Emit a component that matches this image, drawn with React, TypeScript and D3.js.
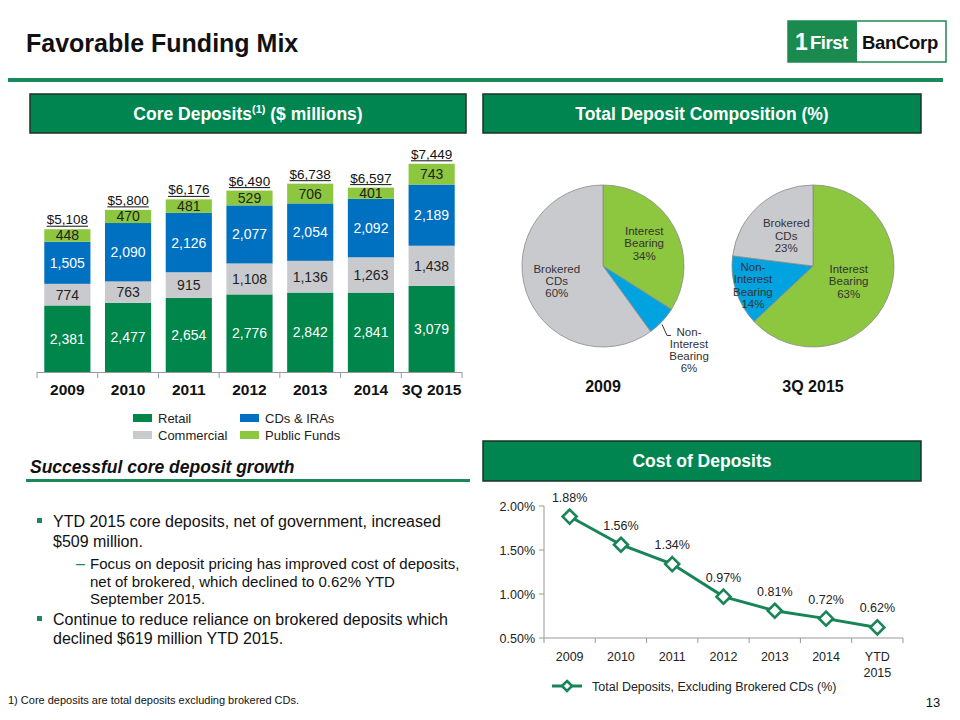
import React from "react";
import * as d3 from "d3";

const years = ["2009", "2010", "2011", "2012", "2013", "2014", "3Q 2015"];
const retail = [2381, 2477, 2654, 2776, 2842, 2841, 3079];
const commercial = [774, 763, 915, 1108, 1136, 1263, 1438];
const cdsIras = [1505, 2090, 2126, 2077, 2054, 2092, 2189];
const publicFunds = [448, 470, 481, 529, 706, 401, 743];
const totalLabels = ["$5,108", "$5,800", "$6,176", "$6,490", "$6,738", "$6,597", "$7,449"];
const seriesNames = ["Retail", "Commercial", "CDs & IRAs", "Public Funds"];

const pieCategories = ["Interest Bearing", "Non-Interest Bearing", "Brokered CDs"];
const pie2009 = [34, 6, 60];
const pie2015 = [63, 14, 23];
const pieTitles = ["2009", "3Q 2015"];

const costCategories = ["2009", "2010", "2011", "2012", "2013", "2014", "YTD 2015"];
const costValues = [1.88, 1.56, 1.34, 0.97, 0.81, 0.72, 0.62];
const costTicks = [0.5, 1.0, 1.5, 2.0];
const costLegend = "Total Deposits, Excluding Brokered CDs (%)";

const FONT = "'Liberation Sans', Arial, sans-serif";
const GREEN_HDR = "#008550";
const BAR_COLORS = ["#00854A", "#C9CACE", "#0070C0", "#8DC63F"];
const BAR_TEXT = ["#ffffff", "#222222", "#ffffff", "#222222"];
const PIE_COLORS = ["#8DC63F", "#00A3E0", "#C9CACE"];
const LINE_GREEN = "#178556";

function fmt(n: number) {
  return d3.format(",")(n);
}

function HeaderBox({ x, y, w, h, children }: any) {
  return (
    <g>
      <rect x={x} y={y} width={w} height={h} fill={GREEN_HDR} stroke="#1b3326" strokeWidth={1.5} />
      <text x={x + w / 2} y={y + h / 2 + 6} textAnchor="middle" fill="#fff" fontWeight="bold" fontSize={17.5} fontFamily={FONT}>
        {children}
      </text>
    </g>
  );
}

function BarChart() {
  const x = d3.scaleBand().domain(years).range([37, 462]).paddingInner(0.24).paddingOuter(0.12);
  const y = d3.scaleLinear().domain([0, 8000]).range([372, 372 - 8000 * 0.02795]);
  const series = [retail, commercial, cdsIras, publicFunds];
  const data = years.map((yr, i) => {
    const o: any = { year: yr };
    seriesNames.forEach((s, k) => (o[s] = series[k][i]));
    return o;
  });
  const stacked = d3.stack().keys(seriesNames)(data);
  const step = x.step();
  const bounds = d3.range(years.length + 1).map((i) => 37 + i * step);
  return (
    <g fontFamily={FONT}>
      {stacked.map((layer, k) => (
        <g key={k}>
          {layer.map((d, i) => {
            const y0 = y(d[0]);
            const y1 = y(d[1]);
            return (
              <g key={i}>
                <rect x={x(years[i])} y={y1} width={x.bandwidth()} height={y0 - y1} fill={BAR_COLORS[k]} />
                <text x={(x(years[i]) as number) + x.bandwidth() / 2} y={(y0 + y1) / 2 + 5} textAnchor="middle" fontSize={14} fill={BAR_TEXT[k]}>
                  {fmt(series[k][i])}
                </text>
              </g>
            );
          })}
        </g>
      ))}
      {years.map((yr, i) => {
        const total = retail[i] + commercial[i] + cdsIras[i] + publicFunds[i];
        const cx = (x(yr) as number) + x.bandwidth() / 2;
        const ty = y(total) - 5;
        const tw = totalLabels[i].length * 6.9;
        return (
          <g key={yr}>
            <text x={cx} y={ty} textAnchor="middle" fontSize={13.5} fill="#111">
              {totalLabels[i]}
            </text>
            <line x1={cx - tw / 2} x2={cx + tw / 2} y1={ty + 2} y2={ty + 2} stroke="#111" strokeWidth={1} />
            <text x={cx} y={395} textAnchor="middle" fontSize={15.5} fontWeight="bold" fill="#111">
              {yr}
            </text>
          </g>
        );
      })}
      <line x1={37} x2={462} y1={372.5} y2={372.5} stroke="#999" strokeWidth={1} />
      {bounds.map((b, i) => (
        <line key={i} x1={b} x2={b} y1={372} y2={378} stroke="#999" strokeWidth={1} />
      ))}
      {seriesNames.map((s, k) => {
        const col = k === 0 || k === 1 ? 0 : 1;
        const row = k === 0 || k === 2 ? 0 : 1;
        const lx = 133 + col * 107;
        const ly = 418 + row * 17;
        return (
          <g key={s}>
            <rect x={lx} y={ly - 4} width={19} height={8} fill={BAR_COLORS[k]} />
            <text x={lx + 25} y={ly + 5} fontSize={13} fill="#222">
              {s}
            </text>
          </g>
        );
      })}
    </g>
  );
}

function Pie({ cx, cy, values, title, labelR, outside }: any) {
  const r = 81;
  const pie = d3.pie<number>().sort(null).value((d) => d)(values);
  const arc = d3.arc<any>().innerRadius(0).outerRadius(r);
  return (
    <g transform={`translate(${cx},${cy})`} fontFamily={FONT}>
      {pie.map((p, i) => (
        <path key={i} d={arc(p) as string} fill={PIE_COLORS[i]} stroke="#8a8a8a" strokeWidth={0.8} />
      ))}
      {pie.map((p, i) => {
        const words = pieCategories[i].startsWith("Non-")
          ? ["Non-", "Interest", "Bearing"]
          : pieCategories[i].split(" ");
        const lines = [...words, values[i] + "%"];
        const mid = (p.startAngle + p.endAngle) / 2;
        if (outside[i]) {
          const ax = Math.sin(mid) * r;
          const ay = -Math.cos(mid) * r;
          const lx = ax + 27;
          const ly0 = ay + 11;
          return (
            <g key={i}>
              <polyline points={`${ax},${ay + 3} ${ax + 5},${ay + 14} ${ax + 9},${ay + 14}`} fill="none" stroke="#333" strokeWidth={1} />
              {lines.map((t, j) => (
                <text key={j} x={lx} y={ly0 + j * 11.7 + 4} textAnchor="middle" fontSize={11.5} fill="#333">
                  {t}
                </text>
              ))}
            </g>
          );
        }
        const lr = r * labelR[i];
        const lx = Math.sin(mid) * lr;
        const ly = -Math.cos(mid) * lr;
        const n = lines.length;
        return (
          <g key={i}>
            {lines.map((t, j) => (
              <text key={j} x={lx} y={ly + (j - (n - 1) / 2) * 12.3 + 4} textAnchor="middle" fontSize={11.5} fill="#333">
                {t}
              </text>
            ))}
          </g>
        );
      })}
      <text x={0} y={126} textAnchor="middle" fontWeight="bold" fontSize={16} fill="#111">
        {title}
      </text>
    </g>
  );
}

function Diamond({ x, y, s }: any) {
  return (
    <path d={`M${x},${y - s} L${x + s},${y} L${x},${y + s} L${x - s},${y} Z`} fill="#fff" stroke={LINE_GREEN} strokeWidth={2.6} />
  );
}

function LineChart() {
  const x = d3.scaleBand().domain(costCategories).range([544, 903]);
  const y = d3.scaleLinear().domain([0.5, 2.0]).range([638, 506]);
  const pts = costValues.map((v, i) => [(x(costCategories[i]) as number) + x.bandwidth() / 2, y(v)] as [number, number]);
  const line = d3.line();
  const bounds = d3.range(costCategories.length + 1).map((i) => 544 + i * x.step());
  return (
    <g fontFamily={FONT}>
      <line x1={544} x2={544} y1={506} y2={638} stroke="#999" />
      <line x1={544} x2={903} y1={638} y2={638} stroke="#999" />
      {costTicks.map((t) => (
        <g key={t}>
          <line x1={539} x2={544} y1={y(t)} y2={y(t)} stroke="#999" />
          <text x={535} y={y(t) + 4.5} textAnchor="end" fontSize={12.5} fill="#222">
            {d3.format(".2f")(t) + "%"}
          </text>
        </g>
      ))}
      {bounds.map((b, i) => (
        <line key={i} x1={b} x2={b} y1={638} y2={643} stroke="#999" />
      ))}
      {costCategories.map((c) => {
        const parts = c.split(" ");
        const cx = (x(c) as number) + x.bandwidth() / 2;
        return parts.map((p, j) => (
          <text key={c + j} x={cx} y={661 + j * 16} textAnchor="middle" fontSize={12.5} fill="#222">
            {p}
          </text>
        ));
      })}
      <path d={line(pts) as string} fill="none" stroke={LINE_GREEN} strokeWidth={3} />
      {pts.map((p, i) => (
        <g key={i}>
          <Diamond x={p[0]} y={p[1]} s={7} />
          <text x={p[0]} y={p[1] - 15} textAnchor="middle" fontSize={12.5} fill="#222">
            {d3.format(".2f")(costValues[i]) + "%"}
          </text>
        </g>
      ))}
      <line x1={552} x2={582} y1={686} y2={686} stroke={LINE_GREEN} strokeWidth={3} />
      <Diamond x={567} y={686} s={5} />
      <text x={592} y={690.5} fontSize={12.5} fill="#222">
        {costLegend}
      </text>
    </g>
  );
}

export default function App() {
  return (
    <svg width={960} height={720} style={{ position: "absolute", left: 0, top: 0, background: "#fff" }}>
      <rect x={0} y={0} width={960} height={720} fill="#fff" />
      <text x={26} y={52} fontFamily={FONT} fontWeight="bold" fontSize={25} fill="#111">
        Favorable Funding Mix
      </text>
      <rect x={8} y={78} width={935} height={4} fill="#1B8A5A" />
      <g fontFamily={FONT} fontWeight="bold">
        <rect x={788} y={21} width={158} height={41} fill="#fff" stroke="#1B8A4F" strokeWidth={1.5} />
        <rect x={788} y={21} width={69} height={41} fill="#1B8A4F" />
        <text x={795} y={50} fontSize={23} fill="#fff" letterSpacing={-1}>1</text>
        <text x={810} y={49} fontSize={18.5} fill="#fff" letterSpacing={-0.5}>First</text>
        <text x={862} y={49} fontSize={18.5} fill="#111" letterSpacing={-0.3}>BanCorp</text>
      </g>
      <HeaderBox x={30} y={94} w={436} h={39}>
        <tspan>Core Deposits</tspan>
        <tspan fontSize={11} dy={-7}>(1)</tspan>
        <tspan dy={7}> ($ millions)</tspan>
      </HeaderBox>
      <HeaderBox x={483} y={94} w={438} h={39}>
        Total Deposit Composition (%)
      </HeaderBox>
      <HeaderBox x={483} y={441} w={438} h={40}>
        Cost of Deposits
      </HeaderBox>
      <BarChart />
      <Pie cx={603} cy={266} values={pie2009} title={pieTitles[0]} labelR={[0.58, 0, 0.6]} outside={[false, true, false]} />
      <Pie cx={813} cy={266} values={pie2015} title={pieTitles[1]} labelR={[0.48, 0.78, 0.5]} outside={[false, false, false]} />
      <LineChart />
      <text x={30} y={473} fontFamily={FONT} fontWeight="bold" fontStyle="italic" fontSize={17.5} fill="#111">
        Successful core deposit growth
      </text>
      <rect x={26} y={479} width={444} height={3} fill="#1B8A5A" />
      <g fontFamily={FONT} fontSize={16} fill="#111">
        <rect x={37} y={518} width={5} height={5} fill="#1B8A5A" />
        <text x={53} y={527}>YTD 2015 core deposits, net of government, increased</text>
        <text x={53} y={547}>$509 million.</text>
        <text x={76} y={569} fill="#1B8A5A">–</text>
        <text x={90} y={569} fontSize={15}>Focus on deposit pricing has improved cost of deposits,</text>
        <text x={90} y={587} fontSize={15}>net of brokered, which declined to 0.62% YTD</text>
        <text x={90} y={604} fontSize={15}>September 2015.</text>
        <rect x={37} y={616} width={5} height={5} fill="#1B8A5A" />
        <text x={53} y={625}>Continue to reduce reliance on brokered deposits which</text>
        <text x={53} y={644}>declined $619 million YTD 2015.</text>
      </g>
      <text x={8} y={704} fontFamily={FONT} fontSize={11} fill="#111">
        1) Core deposits are total deposits excluding brokered CDs.
      </text>
      <text x={933} y={707} textAnchor="middle" fontFamily={FONT} fontSize={13} fill="#111">
        13
      </text>
    </svg>
  );
}
